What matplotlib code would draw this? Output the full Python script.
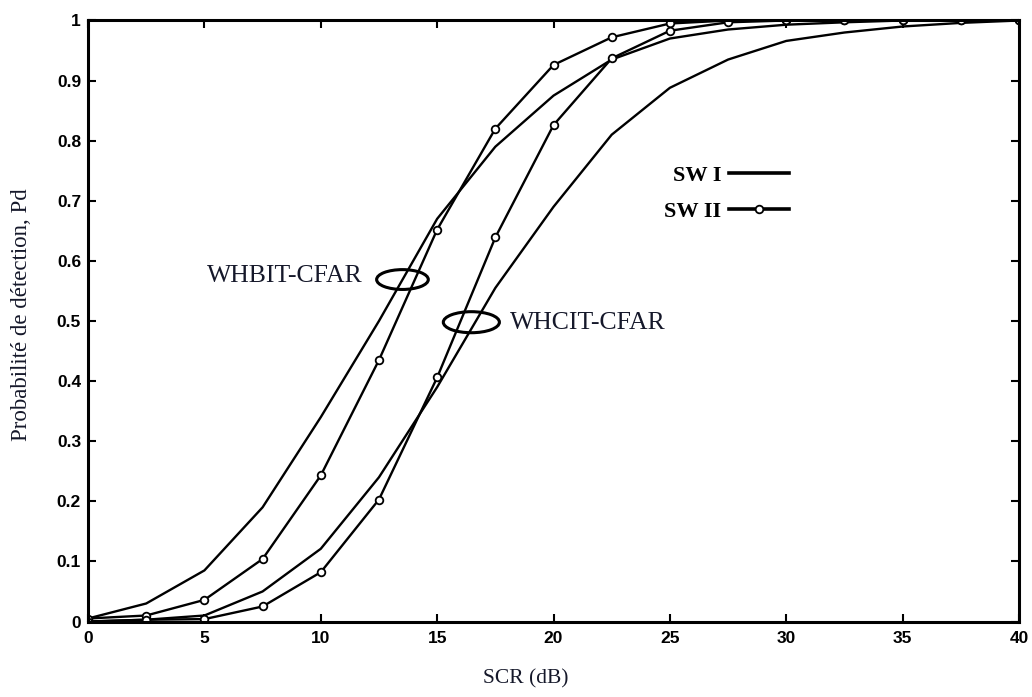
import matplotlib
matplotlib.use('Agg')
import matplotlib.pyplot as plt
from matplotlib.patches import Ellipse

# SCR axis (dB) and detection probabilities for both detectors / Swerling cases
scr = [0, 2.5, 5, 7.5, 10, 12.5, 15, 17.5, 20, 22.5, 25, 27.5, 30, 32.5, 35, 37.5, 40]
whbit_sw1 = [0.005, 0.03, 0.085, 0.19, 0.34, 0.50, 0.67, 0.79, 0.875, 0.935, 0.97, 0.985,
             0.993, 0.997, 1.0, 1.0, 1.0]
whbit_sw2 = [0.005, 0.01, 0.036, 0.104, 0.243, 0.435, 0.652, 0.82, 0.926, 0.972, 0.995, 1.0,
             1.0, 1.0, 1.0, 1.0, 1.0]
whcit_sw1 = [0.0, 0.003, 0.01, 0.05, 0.121, 0.24, 0.39, 0.555, 0.69, 0.81, 0.888, 0.935,
             0.966, 0.98, 0.99, 0.996, 1.0]
whcit_sw2 = [0.0, 0.003, 0.004, 0.025, 0.082, 0.203, 0.406, 0.639, 0.826, 0.937, 0.983, 0.997,
             1.0, 1.0, 1.0, 1.0, 1.0]

xticks = [0, 5, 10, 15, 20, 25, 30, 35, 40]
yticks = [0, 0.1, 0.2, 0.3, 0.4, 0.5, 0.6, 0.7, 0.8, 0.9, 1]
ytick_labels = ['0', '0.1', '0.2', '0.3', '0.4', '0.5', '0.6', '0.7', '0.8', '0.9', '1']

serif = ['Liberation Serif', 'DejaVu Serif']
ink = '#15182a'

fig = plt.figure(figsize=(10.32, 6.97), dpi=100)
ax = fig.add_axes([0.0853, 0.1083, 0.9021, 0.8623])

lw = 1.7
mk = dict(marker='o', markersize=5.5, markerfacecolor='white', markeredgecolor='black',
          markeredgewidth=1.3)
l1, = ax.plot(scr, whbit_sw1, color='black', lw=lw)
l2, = ax.plot(scr, whbit_sw2, color='black', lw=lw, **mk)
ax.plot(scr, whcit_sw1, color='black', lw=lw)
ax.plot(scr, whcit_sw2, color='black', lw=lw, **mk)

ax.set_xlim(0, 40)
ax.set_ylim(0, 1)
ax.set_xticks(xticks)
ax.set_xticklabels([str(t) for t in xticks])
ax.set_yticks(yticks)
ax.set_yticklabels(ytick_labels)
ax.tick_params(direction='in', length=6, width=1.5, top=True, right=True,
               labelsize=12.5, pad=5)
ax.tick_params(axis='x', pad=7)
for lab in ax.get_xticklabels() + ax.get_yticklabels():
    lab.set_fontweight('bold')
    lab.set_family(['Liberation Sans', 'DejaVu Sans'])
for sp in ax.spines.values():
    sp.set_linewidth(2.2)

ax.set_xlabel('SCR (dB)', family=serif, fontsize=15.5, color=ink)
ax.xaxis.set_label_coords(0.47, -0.08)
ax.set_ylabel('Probabilité de détection, Pd', family=serif, fontsize=16.5, color=ink)
ax.yaxis.set_label_coords(-0.06, 0.51)

# detector groups marked with ellipses
ax.add_patch(Ellipse((13.51, 0.569), 2.22, 0.033, fill=False, lw=2.2, color='black'))
ax.add_patch(Ellipse((16.47, 0.498), 2.41, 0.035, fill=False, lw=2.2, color='black'))
ax.text(5.1, 0.575, 'WHBIT-CFAR', family=serif, fontsize=18.5, color=ink, va='center', ha='left')
ax.text(18.13, 0.496, 'WHCIT-CFAR', family=serif, fontsize=18.5, color=ink, va='center', ha='left')

leg = ax.legend([l1, l2], ['SW I', 'SW II'], markerfirst=False, frameon=False, numpoints=1,
                loc='center right', bbox_to_anchor=(0.753, 0.712), borderaxespad=0,
                borderpad=0, handlelength=2.7, handletextpad=0.35, labelspacing=0.7,
                prop={'family': serif, 'weight': 'bold', 'size': 16})
for line in leg.get_lines():
    line.set_linewidth(2.6)

fig.savefig('out.png', dpi=100)
